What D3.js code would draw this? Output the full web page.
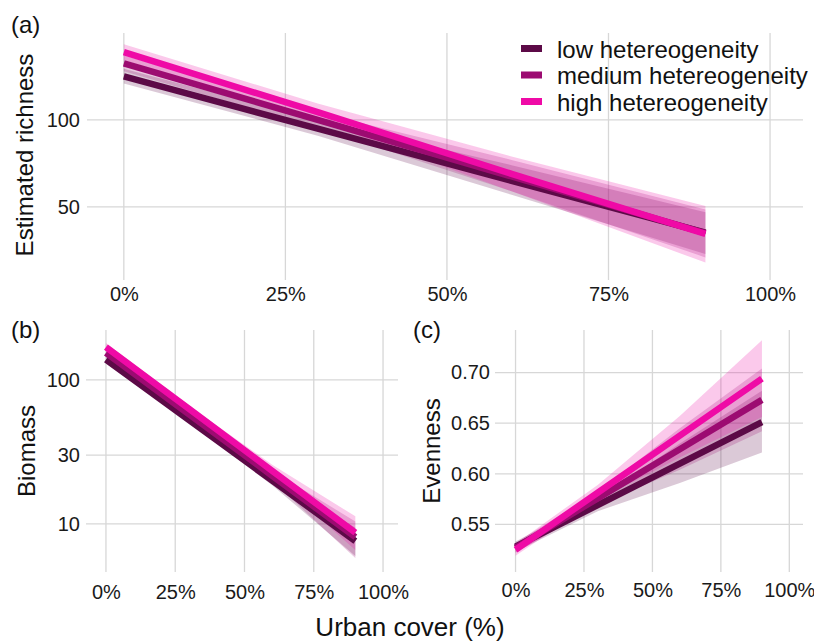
<!DOCTYPE html>
<html>
<head>
<meta charset="utf-8">
<script src="https://cdn.jsdelivr.net/npm/d3@7"></script>
<style>
  html, body { margin: 0; padding: 0; background: #ffffff; }
  svg { display: block; font-family: "Liberation Sans", Arial, Helvetica, sans-serif; }
</style>
</head>
<body>
<svg id="chart" width="814" height="644"></svg>
<script>
// ---------------- data ----------------
const groups = ["low hetereogeneity", "medium hetereogeneity", "high hetereogeneity"];
const groupColors = ["#5c0a47", "#9c0b71", "#ef0aa6"];
const urbanX = [0, 0.3, 0.6, 0.9];
const xTicks = [0, 0.25, 0.5, 0.75, 1];

// (a) Estimated richness  [low, medium, high]
const richnessFit   = [[125, 95, 65, 35.2], [132.5, 100, 67.5, 35], [139, 104.5, 69, 34.5]];
const richnessLower = [[121, 91, 57, 23], [128, 95.5, 59, 21], [134.5, 99.5, 59, 18]];
const richnessUpper = [[129.5, 100, 74, 47], [137, 104.5, 77, 48.5], [143.5, 109.5, 79, 50.5]];
const richnessTicks = [50, 100];

// (b) Biomass (log scale)
const biomassFit   = [[138, 52.5, 20.0, 7.6], [154, 57.7, 21.6, 8.1], [169, 62.9, 23.4, 8.7]];
const biomassLower = [[130, 50.5, 18.6, 6.0], [145, 55.3, 19.9, 5.8], [158, 60.2, 21.4, 6.6]];
const biomassUpper = [[146, 54.6, 21.5, 9.4], [163, 60.1, 23.4, 10.4], [180, 65.8, 25.8, 11.3]];
const biomassTicks = [10, 30, 100];

// (c) Evenness
const evenFit   = [[0.528, 0.569, 0.610, 0.651], [0.527, 0.5757, 0.6243, 0.673], [0.525, 0.5813, 0.6377, 0.694]];
const evenLower = [[0.523, 0.563, 0.591, 0.621], [0.522, 0.569, 0.604, 0.642], [0.519, 0.574, 0.616, 0.656]];
const evenUpper = [[0.533, 0.575, 0.630, 0.682], [0.532, 0.582, 0.645, 0.704], [0.531, 0.589, 0.657, 0.732]];
const evenTicks = [0.55, 0.60, 0.65, 0.70];

// ---------------- drawing ----------------
const svg = d3.select("#chart");
const gridColor = "#d7d7d7";

function panel(opts) {
  const { x, y, yTicks, yFmt, fit, lower, upper, xPad, yPad } = opts;
  const [x0, x1] = x.range();
  const [y0, y1] = y.range(); // y0 bottom, y1 top
  const g = svg.append("g");

  // grid
  g.selectAll(".gy").data(yTicks).join("line")
    .attr("x1", x0).attr("x2", x1)
    .attr("y1", d => y(d)).attr("y2", d => y(d))
    .attr("stroke", gridColor).attr("stroke-width", 1.3);
  g.selectAll(".gx").data(xTicks).join("line")
    .attr("x1", d => x(d)).attr("x2", d => x(d))
    .attr("y1", y1).attr("y2", y0)
    .attr("stroke", gridColor).attr("stroke-width", 1.3);

  // ribbons
  groups.forEach((grp, i) => {
    const pts = urbanX.map((xv, j) => ({ x: xv, lo: lower[i][j], hi: upper[i][j] }));
    const area = d3.area().x(d => x(d.x)).y0(d => y(d.lo)).y1(d => y(d.hi));
    g.append("path").attr("d", area(pts))
      .attr("fill", groupColors[i]).attr("fill-opacity", 0.22);
  });
  // lines
  groups.forEach((grp, i) => {
    const pts = urbanX.map((xv, j) => ({ x: xv, v: fit[i][j] }));
    const line = d3.line().x(d => x(d.x)).y(d => y(d.v));
    g.append("path").attr("d", line(pts))
      .attr("fill", "none").attr("stroke", groupColors[i])
      .attr("stroke-width", 6.5).attr("stroke-linecap", "butt");
  });

  // axes
  const ax = g.append("g").attr("transform", `translate(0,${y0})`)
    .call(d3.axisBottom(x).tickValues(xTicks).tickFormat(d3.format(".0%")).tickSize(0).tickPadding(xPad));
  const ay = g.append("g").attr("transform", `translate(${x0},0)`)
    .call(d3.axisLeft(y).tickValues(yTicks).tickFormat(yFmt).tickSize(0).tickPadding(yPad));
  [ax, ay].forEach(a => {
    a.select(".domain").remove();
    a.selectAll("text").attr("font-size", 20).attr("fill", "#1a1a1a")
      .attr("font-family", "'Liberation Sans', Arial, sans-serif");
  });
}

// (a)
const xA = d3.scaleLinear().domain([-0.057, 1.051]).range([87, 803]);
const yA = d3.scaleLinear().domain([8, 150]).range([280, 33]);
panel({ x: xA, y: yA, yTicks: richnessTicks, yFmt: d3.format("d"),
        fit: richnessFit, lower: richnessLower, upper: richnessUpper, xPad: 7, yPad: 7 });

// (b)
const xB = d3.scaleLinear().domain([-0.072, 1.054]).range([86, 398]);
const yB = d3.scaleLog().domain([4.64, 222]).range([572, 330]);
panel({ x: xB, y: yB, yTicks: biomassTicks, yFmt: d3.format("d"),
        fit: biomassFit, lower: biomassLower, upper: biomassUpper, xPad: 13, yPad: 6 });

// (c)
const xC = d3.scaleLinear().domain([-0.075, 1.05]).range([495, 803]);
const yC = d3.scaleLinear().domain([0.503, 0.742]).range([572, 330]);
panel({ x: xC, y: yC, yTicks: evenTicks, yFmt: d3.format(".2f"),
        fit: evenFit, lower: evenLower, upper: evenUpper, xPad: 11, yPad: 5 });

// titles / tags
const txt = (s, x, y, size, anchor, rot) => {
  const t = svg.append("text").text(s).attr("font-size", size).attr("fill", "#111")
    .attr("text-anchor", anchor || "start");
  if (rot) t.attr("transform", `translate(${x},${y}) rotate(-90)`);
  else t.attr("x", x).attr("y", y);
  return t;
};
txt("(a)", 11, 33, 24);
txt("(b)", 11, 338, 24);
txt("(c)", 413, 338, 24);
txt("Estimated richness", 33, 155, 24, "middle", true);
txt("Biomass", 35, 451, 24, "middle", true);
txt("Evenness", 440, 451, 24, "middle", true);
txt("Urban cover (%)", 410, 636, 26, "middle");

// legend
const legRows = [48.5, 75, 101.5];
groups.forEach((grp, i) => {
  svg.append("rect").attr("x", 521).attr("y", legRows[i] - 3.5)
    .attr("width", 21).attr("height", 7).attr("fill", groupColors[i]);
  txt(grp, 557, legRows[i] + 9, 24);
});
</script>
</body>
</html>
